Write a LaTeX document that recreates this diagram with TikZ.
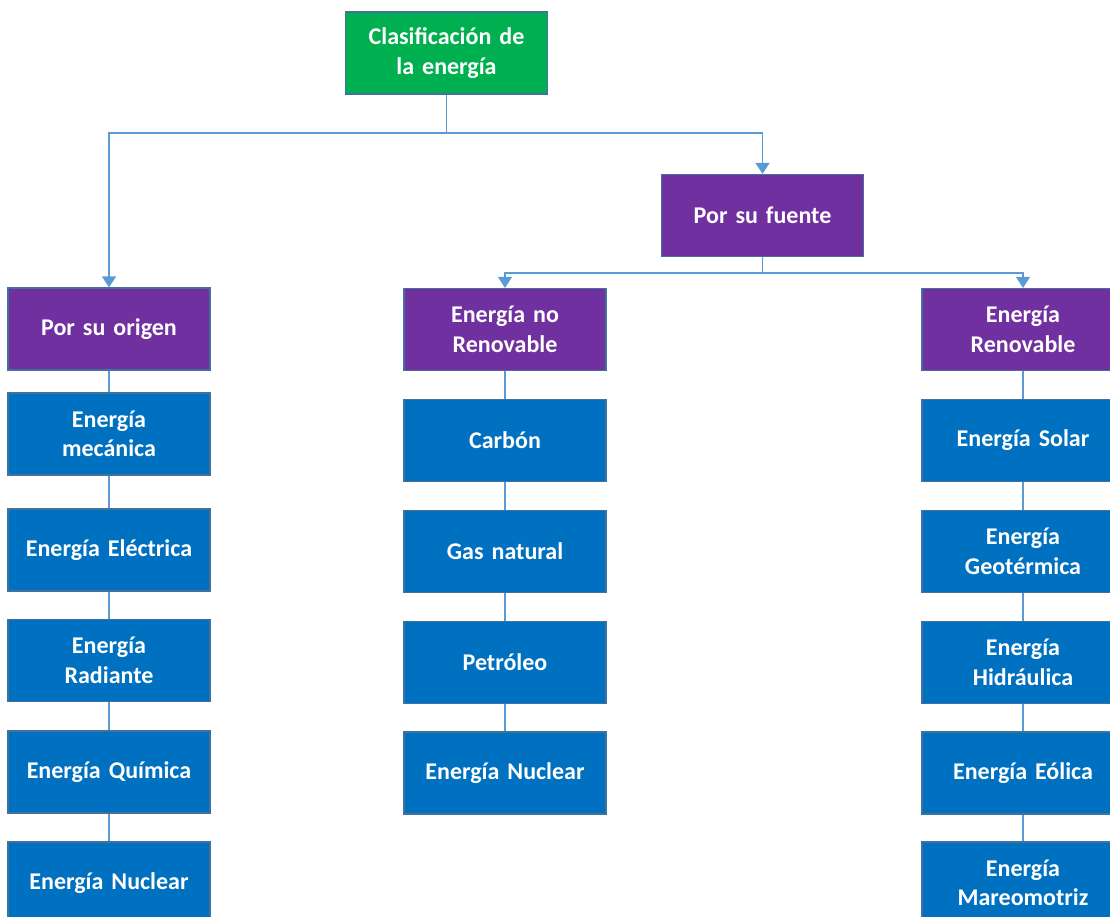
\documentclass[tikz,border=0pt]{standalone}
\usepackage{fontspec}
\setmainfont{Carlito}[WordSpace=0.8]
\usepackage{xcolor}
\usepackage{tikz}
\usetikzlibrary{
    arrows.meta,
    positioning,
    calc
}
\definecolor{enegreen}{HTML}{00B050}
\definecolor{enepurple}{HTML}{7030A0}
\definecolor{eneblue}{HTML}{0070C0}
\definecolor{eneborder}{HTML}{41719C}
\definecolor{eneline}{HTML}{5B9BD5}
\tikzset{
    % Standard filled box
    enebox/.style={
        rectangle,
        draw=eneborder,
        line width=1.2pt,
        fill=#1,
        text=white,
        font=\fontsize{24}{29.5}\selectfont\bfseries,
        minimum width=202pt,
        minimum height=82pt,
        text width=190pt,
        align=center,
        inner sep=4pt
    },
    enebox/.default=eneblue,
    % Root node
    rootbox/.style={enebox=enegreen},
    % Category header
    catbox/.style={enebox=enepurple},
    % Arrow style
    enearrow/.style={
        -{Triangle[width=14pt,length=11pt]},
        line width=1.3pt,
        color=eneline
    },
    % Plain link
    enelink/.style={
        line width=1.3pt,
        color=eneline
    }
}
\begin{document}
\begin{tikzpicture}[x=1pt, y=-1pt]
    \useasboundingbox (0,0) rectangle (1110,917);

    % Root and first level
    \node[rootbox] (root) at (446.5,53) {Clasificación de\\la energía};
    \node[catbox] (fuente) at (762.5,215.5) {Por su fuente};
    \node[catbox] (origen) at (109,329) {Por su origen};
    \node[catbox] (norenov) at (505,329.5) {Energía no\\Renovable};
    \node[catbox] (renov) at (1023,329.5) {Energía\\Renovable};

    % Left column
    \node[enebox] (mecanica) at (109,434) {Energía\\mecánica};
    \node[enebox] (electrica) at (109,550) {Energía Eléctrica};
    \node[enebox] (radiante) at (109,660.5) {Energía\\Radiante};
    \node[enebox] (quimica) at (109,772) {Energía Química};
    \node[enebox] (nuclearA) at (109,883) {Energía Nuclear};

    % Middle column
    \node[enebox] (carbon) at (505,440.5) {Carbón};
    \node[enebox] (gas) at (505,551.5) {Gas natural};
    \node[enebox] (petroleo) at (505,662.5) {Petróleo};
    \node[enebox] (nuclearB) at (505,773) {Energía Nuclear};

    % Right column
    \node[enebox] (solar) at (1023,440.5) {Energía Solar};
    \node[enebox] (geotermica) at (1023,551.5) {Energía\\Geotérmica};
    \node[enebox] (hidraulica) at (1023,662.5) {Energía\\Hidráulica};
    \node[enebox] (eolica) at (1023,773) {Energía Eólica};
    \node[enebox] (mareo) at (1023,883) {Energía\\Mareomotriz};

    % Branch points
    \coordinate (splitroot) at (446.5,133);
    \coordinate (splitfuente) at (762.5,273);

    \draw[enelink] (root.south) -- (splitroot);
    \draw[enearrow] (splitroot) -| (origen.north);
    \draw[enearrow] (splitroot) -| (fuente.north);
    \draw[enelink] (fuente.south) -- (splitfuente);
    \draw[enearrow] (splitfuente) -| (norenov.north);
    \draw[enearrow] (splitfuente) -| (renov.north);

    % Column links
    \foreach \a/\b in {origen/mecanica, mecanica/electrica, electrica/radiante,
        radiante/quimica, quimica/nuclearA,
        norenov/carbon, carbon/gas, gas/petroleo, petroleo/nuclearB,
        renov/solar, solar/geotermica, geotermica/hidraulica,
        hidraulica/eolica, eolica/mareo}
        \draw[enelink] (\a.south) -- (\b.north);

\end{tikzpicture}
\end{document}
